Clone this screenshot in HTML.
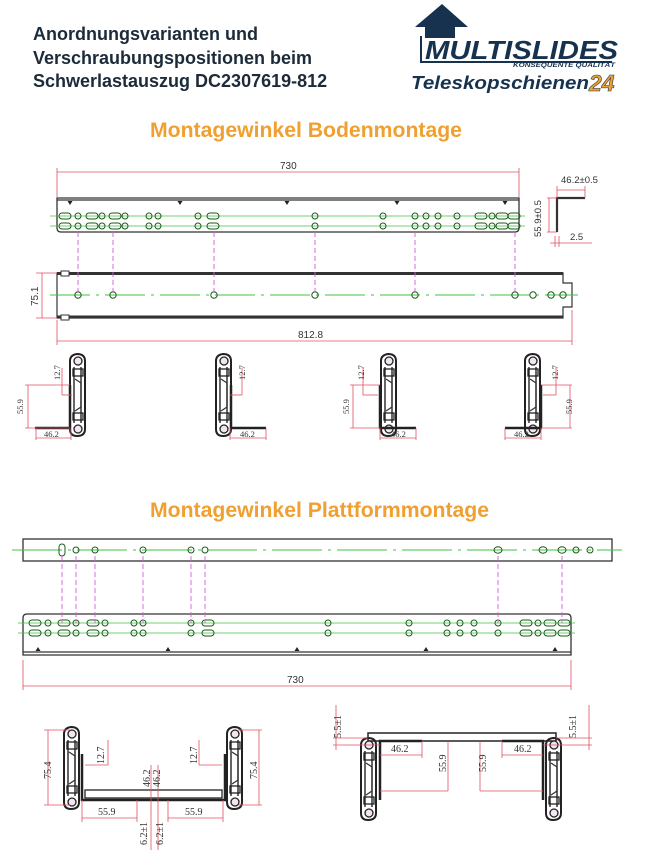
<!DOCTYPE html>
<html><head><meta charset="utf-8">
<style>
html,body{margin:0;padding:0;background:#fff;}
body{width:657px;height:853px;overflow:hidden;position:relative;font-family:"Liberation Sans",sans-serif;}
.h{position:absolute;left:33px;top:23px;font-size:18px;font-weight:bold;color:#1c2a3a;line-height:23.5px;white-space:nowrap;}
.t{position:absolute;font-size:21.2px;font-weight:bold;color:#f0a030;white-space:nowrap;}
svg{position:absolute;left:0;top:0;}
</style></head><body>
<div class="h">Anordnungsvarianten und<br>Verschraubungspositionen beim<br>Schwerlastauszug DC2307619-812</div>
<div class="t" style="left:150px;top:119px;">Montagewinkel Bodenmontage</div>
<div class="t" style="left:150px;top:499px;">Montagewinkel Plattformmontage</div>
<svg id="s" width="657" height="853" viewBox="0 0 657 853" font-family="Liberation Sans, sans-serif">
<defs>
<g id="sl">
<path d="M-8,-34 q0,-6 7,-7 q8,0 8,7 l0,68 q0,7 -8,7 q-7,0 -7,-7 z" fill="none" stroke="#222" stroke-width="2"/>
<path d="M-4,-28 l0,56 M3,-28 l0,56" stroke="#333" stroke-width="1.5"/>
<path d="M-3,-16 l6,4 l0,24 l-6,4" fill="none" stroke="#333" stroke-width="1.2"/>
<circle cx="0" cy="-34" r="4" fill="#f3e6f3" stroke="#222" stroke-width="1.3"/>
<circle cx="0" cy="34" r="4" fill="#f3e6f3" stroke="#222" stroke-width="1.3"/>
<rect x="-5" y="-26" width="10" height="7" fill="none" stroke="#222" stroke-width="1.3"/>
<rect x="-5" y="18" width="10" height="7" fill="none" stroke="#222" stroke-width="1.3"/>
</g>
</defs>
<polygon points="415,27 442,4 468,27 455,27 455,38 425,38 425,27" fill="#17324f"/>
<path d="M421,36 L421,62 L612,62" fill="none" stroke="#17324f" stroke-width="2"/>
<text x="425" y="59" font-size="26" font-weight="bold" font-style="italic" fill="#17324f" textLength="193" lengthAdjust="spacingAndGlyphs">MULTISLIDES</text>
<text x="513" y="67" font-size="6.5" font-weight="bold" font-style="italic" fill="#17324f" textLength="102" lengthAdjust="spacingAndGlyphs">KONSEQUENTE QUALITÄT</text>
<text x="411" y="89" font-size="18" font-weight="bold" font-style="italic" fill="#17324f" textLength="178" lengthAdjust="spacingAndGlyphs">Teleskopschienen</text>
<text x="589" y="91" font-size="23" font-weight="bold" font-style="italic" fill="#f0a030" stroke="#17324f" stroke-width="0.6">24</text>
<g id="dyn"></g>
<g font-size="10" fill="#333">
<text x="280" y="169">730</text>
<text x="561" y="183" font-size="9.5">46.2±0.5</text>
<text transform="translate(541,237) rotate(-90)" font-size="9.5">55.9±0.5</text>
<text x="570" y="240" font-size="9.5">2.5</text>
<text transform="translate(38,306) rotate(-90)">75.1</text>
<text x="298" y="338">812.8</text>
<text x="287" y="683">730</text>
</g>
<g font-size="8.5" fill="#333" font-family="Liberation Serif, serif">
<text transform="translate(23,414) rotate(-90)">55.9</text><text transform="translate(60,380) rotate(-90)">12.7</text><text x="44" y="437">46.2</text>
<text transform="translate(245,380) rotate(-90)">12.7</text><text x="240" y="437">46.2</text>
<text transform="translate(349,414) rotate(-90)">55.9</text><text transform="translate(364,380) rotate(-90)">12.7</text><text x="391" y="437">46.2</text>
<text transform="translate(558,380) rotate(-90)">12.7</text><text transform="translate(572,414) rotate(-90)">55.9</text><text x="514" y="437">46.2</text>
<text transform="translate(51,779) rotate(-90)" font-size="10">75.4</text>
<text transform="translate(104,764) rotate(-90)" font-size="10">12.7</text>
<text transform="translate(197,764) rotate(-90)" font-size="10">12.7</text>
<text transform="translate(257,779) rotate(-90)" font-size="10">75.4</text>
<text transform="translate(150,787) rotate(-90)" font-size="10">46.2</text>
<text transform="translate(160,787) rotate(-90)" font-size="10">46.2</text>
<text x="98" y="815" font-size="10">55.9</text><text x="185" y="815" font-size="10">55.9</text>
<text transform="translate(147,845) rotate(-90)" font-size="10">6.2±1</text>
<text transform="translate(163,845) rotate(-90)" font-size="10">6.2±1</text>
<text transform="translate(341,738) rotate(-90)" font-size="10">5.5±1</text>
<text transform="translate(576,738) rotate(-90)" font-size="10">5.5±1</text>
<text x="391" y="752" font-size="10">46.2</text><text x="514" y="752" font-size="10">46.2</text>
<text transform="translate(446,772) rotate(-90)" font-size="10">55.9</text>
<text transform="translate(486,772) rotate(-90)" font-size="10">55.9</text>
</g>
</svg>
<script>
var g=document.getElementById('dyn'),o='';
function L(x1,y1,x2,y2,c,w,d){o+='<line x1="'+x1+'" y1="'+y1+'" x2="'+x2+'" y2="'+y2+'" stroke="'+c+'" stroke-width="'+(w||0.8)+'"'+(d?' stroke-dasharray="'+d+'"':'')+'/>';}
function C(x,y,r){o+='<circle cx="'+x+'" cy="'+y+'" r="'+(r||3)+'" fill="none" stroke="#1a5a1a" stroke-width="1"/>';}
function S(x,y,v){if(v)o+='<rect x="'+(x-3)+'" y="'+(y-6)+'" width="6" height="12" rx="3" fill="none" stroke="#1a5a1a"/>';else o+='<rect x="'+(x-6)+'" y="'+(y-3)+'" width="12" height="6" rx="3" fill="none" stroke="#1a5a1a"/>';}
function T(x,y,up){o+='<polygon points="'+(x-2.5)+','+y+' '+(x+2.5)+','+y+' '+x+','+(up?y-4:y+4)+'" fill="#222"/>';}
var R='#e05060',G='#40c040',M='#d060d0';
o+='<path d="M57,198 L519,198 L519,228 q0,4 -4,4 L61,232 q-4,0 -4,-4 Z" fill="none" stroke="#333" stroke-width="1.3"/>';
L(57,200,519,200,'#333',1.2);
[70,180,287,397,505].forEach(function(x){T(x,201,false);});
L(50,216,525,216,G);L(50,226,525,226,G);
var h1=[[65,1],[78,0],[92,1],[102,0],[115,1],[125,0],[149,0],[158,0],[198,0],[213,1],[315,0],[383,0],[415,0],[426,0],[438,0],[457,0],[481,1],[492,0],[502,1],[514,1]];
h1.forEach(function(h){[216,226].forEach(function(y){h[1]?S(h[0],y):C(h[0],y);});});
L(57,172,519,172,R);L(57,168,57,198,R);L(519,168,519,198,R);
o+='<path d="M557,232 L557,198 L585,198" fill="none" stroke="#333" stroke-width="2.2"/>';
L(557,190,585,190,R);L(585,186,585,198,R);L(557,186,557,198,R);
L(547,198,557,198,R);L(547,232,557,232,R);L(549,198,549,232,R);
L(550,243,592,243,R);L(555,236,555,247,R);L(559,236,559,247,R);
o+='<path d="M57,273 L563,273 L563,283 L572,283 L572,307 L563,307 L563,318 L57,318 Z" fill="none" stroke="#333" stroke-width="1.2"/>';
L(57,273.5,563,273.5,'#333',3);L(57,317,563,317,'#333',3);
o+='<rect x="61" y="271" width="8" height="5" fill="#fff" stroke="#333"/><rect x="61" y="315" width="8" height="5" fill="#fff" stroke="#333"/>';
L(50,295,578,295,G,0.9,'40,6,3,6');
[78,113,214,315,415,515,533,551,563].forEach(function(x){C(x,295,3.2);});
[78,113,214,315,415,515].forEach(function(x){L(x,232,x,295,M,0.9,'5,3');});
L(42,273,42,318,R);L(36,273,57,273,R);L(36,318,57,318,R);
L(57,341,572,341,R);L(57,320,57,345,R);L(572,310,572,345,R);
function prof(sx,vx,hx1,hx2){o+='<use href="#sl" x="'+sx+'" y="395"/>';o+='<path d="M'+vx+',385 L'+vx+',428 M'+hx1+',428 L'+hx2+',428" stroke="#222" stroke-width="2.5" fill="none"/>';}
prof(78,70,35,71);prof(224,231,230,266);prof(389,380,379,416);prof(533,541,505,542);
function dimL(x,vx){L(x,385,vx,385,R);L(x,428,vx,428,R);L(x+3,385,x+3,428,R);}
dimL(25,70);L(62,368,62,395,R);L(62,395,72,395,R);L(36,428,36,440,R);L(71,428,71,440,R);L(36,438,71,438,R);
L(242,368,242,395,R);L(230,395,242,395,R);L(230,428,230,440,R);L(266,428,266,440,R);L(230,438,266,438,R);
dimL(350,380);L(363,368,363,395,R);L(363,395,378,395,R);L(380,428,380,440,R);L(416,428,416,440,R);L(380,438,416,438,R);
L(572,385,541,385,R);L(572,428,541,428,R);L(570,385,570,428,R);L(556,368,556,395,R);L(543,395,556,395,R);L(505,428,505,440,R);L(541,428,541,440,R);L(505,438,541,438,R);
o+='<rect x="23" y="539" width="589" height="22" fill="none" stroke="#333" stroke-width="1.3"/>';
L(12,550,622,550,G,0.9,'50,6,3,6');
[[62,2],[76,0],[95,0],[143,0],[191,0],[205,0],[498,1],[543,1],[562,1],[576,0],[590,0]].forEach(function(h){h[1]==2?S(h[0],550,true):(h[1]?o+='<ellipse cx="'+h[0]+'" cy="550" rx="4" ry="3.2" fill="none" stroke="#1a5a1a"/>':C(h[0],550));});
o+='<path d="M23,655 L23,618 q0,-4 4,-4 L567,614 q4,0 4,4 L571,655 Z" fill="none" stroke="#333" stroke-width="1.3"/>';
L(23,652,571,652,'#333',1.2);
[38,168,297,426,555].forEach(function(x){T(x,651,true);});
L(18,623,575,623,G);L(18,633,575,633,G);
var h2=[[35,1],[48,0],[64,1],[76,0],[93,1],[105,0],[134,0],[143,0],[191,0],[208,1],[328,0],[409,0],[447,0],[460,0],[474,0],[498,0],[526,1],[538,0],[550,1],[564,1]];
h2.forEach(function(h){[623,633].forEach(function(y){h[1]?S(h[0],y):C(h[0],y);});});
[62,76,95,143,191,205,498,562].forEach(function(x){L(x,556,x,623,M,0.9,'5,3');});
L(23,686,571,686,R);L(23,660,23,690,R);L(571,660,571,690,R);
o+='<use href="#sl" x="72" y="768"/><use href="#sl" x="235" y="768"/>';
o+='<path d="M82,754 L82,800 L225,800 L225,754" fill="none" stroke="#222" stroke-width="2.5"/>';
o+='<rect x="85" y="790" width="137" height="8" fill="none" stroke="#222" stroke-width="1.3"/>';
L(44,730,70,730,R);L(44,805,70,805,R);L(48,730,48,805,R);
L(262,730,238,730,R);L(262,805,238,805,R);L(259,730,259,805,R);
L(108,740,108,765,R);L(85,765,108,765,R);L(199,740,199,765,R);L(199,765,222,765,R);
L(82,800,82,822,R);L(137,800,137,822,R);L(82,818,137,818,R);
L(168,800,168,822,R);L(223,800,223,822,R);L(168,818,223,818,R);
L(151,765,151,850,R);L(158,765,158,850,R);
o+='<rect x="368" y="733" width="188" height="8" fill="none" stroke="#222" stroke-width="1.5"/>';
o+='<path d="M380,800 L380,741 L422,741 M502,741 L543,741 L543,800" fill="none" stroke="#222" stroke-width="2.5"/>';
o+='<use href="#sl" x="369" y="779"/><use href="#sl" x="554" y="779"/>';
L(333,738,368,738,R);L(333,745,380,745,R);L(336,705,336,750,R);
L(556,738,592,738,R);L(543,745,592,745,R);L(589,705,589,750,R);
L(380,755,422,755,R);L(422,741,422,758,R);L(502,755,543,755,R);L(502,741,502,758,R);
L(448,741,448,791,R);L(380,791,448,791,R);L(480,741,480,791,R);L(480,791,543,791,R);
g.innerHTML=o;
</script>
</body></html>
